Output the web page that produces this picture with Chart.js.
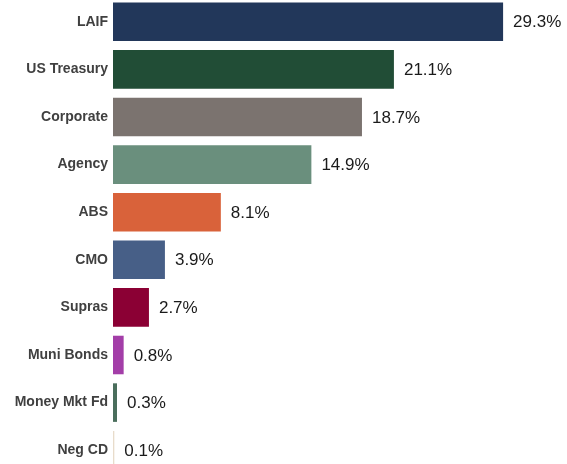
<!DOCTYPE html>
<html>
<head>
<meta charset="utf-8">
<script src="https://cdn.jsdelivr.net/npm/chart.js@4/dist/chart.umd.min.js"></script>
<style>
  html, body { margin: 0; padding: 0; background: #fff; overflow: hidden; width: 567px; height: 464px; }
  #myChart { position: absolute; left: 0; top: -2px; }
</style>
</head>
<body>
<canvas id="myChart" width="567" height="476"></canvas>
<script>
var categories = ['LAIF', 'US Treasury', 'Corporate', 'Agency', 'ABS', 'CMO', 'Supras', 'Muni Bonds', 'Money Mkt Fd', 'Neg CD'];
var shares = [29.3, 21.1, 18.7, 14.9, 8.1, 3.9, 2.7, 0.8, 0.3, 0.1];
var barColors = ['#22375a', '#214d36', '#7b736f', '#6a8f7d', '#d9623a', '#475f87', '#8b0034', '#a33ea8', '#4a6e5c', '#e8dccb'];

// labels at the end of each bar
var valueLabels = {
    id: 'valueLabels',
    afterDatasetsDraw: function (chart) {
        var c = chart.ctx;
        var meta = chart.getDatasetMeta(0);
        c.save();
        c.font = '17px "Liberation Sans", Arial, sans-serif';
        c.fillStyle = '#1a1a1a';
        c.textAlign = 'left';
        c.textBaseline = 'middle';
        meta.data.forEach(function (bar, i) {
            c.fillText(shares[i].toFixed(1) + '%', bar.x + 10, bar.y + 1);
        });
        c.restore();
    }
};

var ctx = document.getElementById('myChart');
var myBarChart = new Chart(ctx, {
    type: 'bar',
    data: {
        labels: categories,
        datasets: [{
            label: 'Share',
            data: shares,
            backgroundColor: barColors,
            borderWidth: 0,
            barPercentage: 0.81,
            categoryPercentage: 1
        }]
    },
    options: {
        indexAxis: 'y',
        responsive: false,
        animation: false,
        layout: { padding: 0 },
        plugins: {
            legend: { display: false },
            tooltip: { enabled: false }
        },
        scales: {
            x: {
                display: false,
                min: 0,
                max: 34.1
            },
            y: {
                grid: { display: false, drawTicks: false },
                border: { display: false },
                ticks: {
                    color: '#404040',
                    padding: 5,
                    font: { family: '"Liberation Sans", Arial, sans-serif', size: 14, weight: 'bold' }
                },
                afterFit: function (scale) {
                    scale.width = 113;
                    scale.paddingTop = 0;
                    scale.paddingBottom = 0;
                }
            }
        }
    },
    plugins: [valueLabels]
});
</script>
</body>
</html>
